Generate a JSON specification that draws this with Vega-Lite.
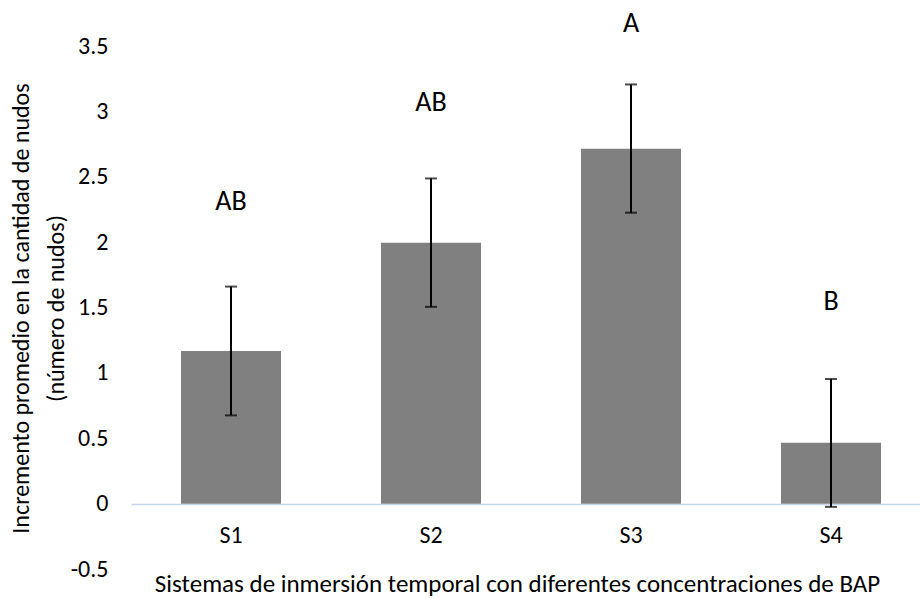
{
  "$schema": "https://vega.github.io/schema/vega-lite/v6.json",
  "autosize": "none",
  "width": 800,
  "height": 523,
  "padding": {"left": 131, "top": 46, "right": 0, "bottom": 30},
  "background": "white",
  "config": {
    "view": {"stroke": null},
    "font": "Carlito, Lato"
  },
  "data": {
    "values": [
      {"sistema": "S1", "media": 1.167, "bajo": 0.675, "alto": 1.66, "letra": "AB", "letra_y": 2.31},
      {"sistema": "S2", "media": 1.995, "bajo": 1.505, "alto": 2.487, "letra": "AB", "letra_y": 3.067},
      {"sistema": "S3", "media": 2.714, "bajo": 2.225, "alto": 3.206, "letra": "A", "letra_y": 3.667},
      {"sistema": "S4", "media": 0.465, "bajo": -0.025, "alto": 0.953, "letra": "B", "letra_y": 1.545}
    ]
  },
  "encoding": {
    "x": {
      "field": "sistema",
      "type": "nominal",
      "sort": null,
      "scale": {"paddingInner": 0.5, "paddingOuter": 0.25},
      "axis": {
        "title": "Sistemas de inmersión temporal con diferentes concentraciones de BAP",
        "offset": -65,
        "domainColor": "#c5d6ec",
        "domainWidth": 1.5,
        "ticks": false,
        "labelAngle": 0,
        "labelFontSize": 24,
        "labelColor": "#000000",
        "labelPadding": 31,
        "labelBaseline": "middle",
        "labelFont": "Carlito, Lato",
        "titleFont": "Carlito, Lato",
        "titleFontSize": 25,
        "titleFontWeight": "normal",
        "titleColor": "#000000",
        "titleX": 386,
        "titleY": 79,
        "titleBaseline": "middle",
        "titleAlign": "center"
      }
    }
  },
  "layer": [
    {
      "mark": {"type": "bar", "color": "#808080"},
      "encoding": {
        "y": {
          "field": "media",
          "type": "quantitative",
          "scale": {"domain": [-0.5, 3.5], "nice": false, "zero": false},
          "axis": {
            "title": ["Incremento promedio en la cantidad de nudos", "(número de nudos)"],
            "values": [-0.5, 0, 0.5, 1, 1.5, 2, 2.5, 3, 3.5],
            "labelExpr": "datum.value < 0 ? '-' + format(-datum.value, '') : format(datum.value, '')",
            "domain": false,
            "ticks": false,
            "grid": false,
            "labelFontSize": 24,
            "labelColor": "#000000",
            "labelPadding": 23,
            "labelFont": "Carlito, Lato",
            "labelFlush": false,
            "titleFont": "Carlito, Lato",
            "titleFontSize": 24,
            "titleFontWeight": "normal",
            "titleColor": "#000000",
            "titleAngle": -90,
            "titleX": -110,
            "titleY": 262,
            "titleAlign": "center",
            "titleBaseline": "middle",
            "titleLineHeight": 35
          }
        },
        "y2": {"datum": 0}
      }
    },
    {
      "mark": {"type": "rule", "color": "#000000", "strokeWidth": 2},
      "encoding": {
        "y": {"field": "bajo", "type": "quantitative"},
        "y2": {"field": "alto"}
      }
    },
    {
      "mark": {"type": "tick", "color": "#000000", "thickness": 2, "size": 12},
      "encoding": {"y": {"field": "bajo", "type": "quantitative"}}
    },
    {
      "mark": {"type": "tick", "color": "#000000", "thickness": 2, "size": 12},
      "encoding": {"y": {"field": "alto", "type": "quantitative"}}
    },
    {
      "mark": {"type": "text", "fontSize": 28, "color": "#000000", "baseline": "middle", "align": "center", "font": "Carlito, Lato"},
      "encoding": {
        "y": {"field": "letra_y", "type": "quantitative"},
        "text": {"field": "letra"}
      }
    }
  ]
}
